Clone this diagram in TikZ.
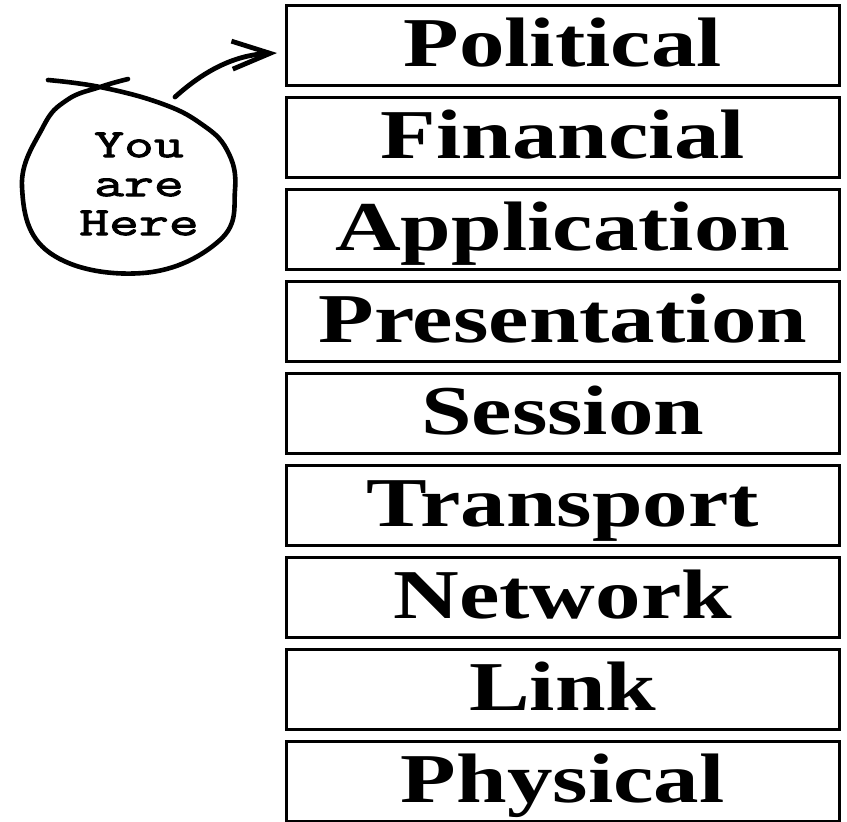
\documentclass[tikz,border=0pt]{standalone}
\usepackage{fontspec}
\newfontfamily\layerfont[FakeStretch=1.3]{Liberation Serif}
\newfontfamily\herefont[FakeStretch=1.45,FakeBold=2.5]{Latin Modern Mono}
\usetikzlibrary{positioning,arrows.meta}

\begin{document}
\begin{tikzpicture}[x=0.5pt,y=0.5pt,node distance=4.25pt,
		layer/.style={draw, line width=1.5pt, minimum width=276.25pt, minimum height=40.25pt,
			inner sep=0pt, text height=23pt, text depth=2.5pt,
			font=\layerfont\bfseries\fontsize{35}{40}\selectfont},
		sign/.style={align=center, font=\herefont\fontsize{20}{19.5}\selectfont},
		loop/.style={line width=2.3pt, line cap=round, line join=round},
		pointer/.style={-{Straight Barb[length=19pt,width=14pt]}, line width=2.4pt, line cap=round}]

	\useasboundingbox (0,0) rectangle (847,-821);

	%%% Layer stack
	\node at (562.75,-45.5) [layer] (political) {Political};
	\node [below=of political,layer] (financial) {Financial};
	\node [below=of financial,layer] (application) {Application};
	\node [below=of application,layer] (presentation) {Presentation};
	\node [below=of presentation,layer] (session) {Session};
	\node [below=of session,layer] (transport) {Transport};
	\node [below=of transport,layer] (network) {Network};
	\node [below=of network,layer] (link) {Link};
	\node [below=of link,layer] (physical) {Physical};

	%%% You are here
	\node at (139,-184) [sign] (here) {You\\are\\Here};
	\draw [loop] plot [smooth, tension=0.7] coordinates {(48,-80) (100,-87) (160,-103) (200,-123)
		(227,-150) (235,-190) (220,-240) (143,-273) (50,-253) (22,-187) (43,-127) (67,-100)
		(100,-87) (128,-79)};

	%% pointer to the top layer
	\coordinate (tail) at (175,-97);
	\draw [pointer] (tail) .. controls (205,-70) and (235,-55) .. ([xshift=-4pt,yshift=-3.75pt]political.west);
\end{tikzpicture}
\end{document}
